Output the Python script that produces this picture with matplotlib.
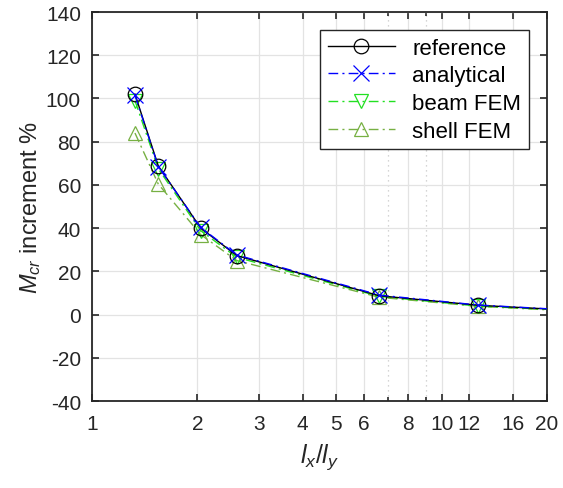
import matplotlib
matplotlib.use("Agg")
import matplotlib.pyplot as plt
from matplotlib.ticker import FixedLocator, FixedFormatter, NullFormatter

plt.rcParams['font.family'] = ['Liberation Sans', 'DejaVu Sans']
plt.rcParams['mathtext.fontset'] = 'custom'
plt.rcParams['mathtext.rm'] = 'Liberation Sans'
plt.rcParams['mathtext.it'] = 'Liberation Sans:italic'
plt.rcParams['axes.unicode_minus'] = False

# data
ratio = [1.327, 1.547, 2.046, 2.593, 6.63, 12.73, 20.0]
reference = [102.0, 68.8, 40.0, 27.3, 8.7, 4.3, 2.6]
analytical = [101.5, 68.5, 40.3, 27.6, 9.0, 4.4, 2.7]
beam_fem = [99.0, 67.5, 38.8, 26.5, 8.4, 3.9, 2.4]
shell_fem = [84.0, 60.4, 37.0, 25.0, 8.0, 3.8, 2.2]

xticks = [1, 2, 3, 4, 5, 6, 8, 10, 12, 16, 20]
xminor = [7, 9]
yticks = [-40, -20, 0, 20, 40, 60, 80, 100, 120, 140]

fig = plt.figure(figsize=(5.63, 4.89), dpi=100)
ax = fig.add_axes([0.1634, 0.1779, 0.8082, 0.7955])

mk = list(range(len(ratio) - 1))
dd = (7, 3, 1.5, 3)
ax.plot(ratio, reference, color='black', lw=1.0, ls='-', marker='o',
        ms=10.5, mfc='none', mec='black', mew=0.9, markevery=mk, label='reference', zorder=5)
ax.plot(ratio, analytical, color='#0000ff', lw=1.0, ls='-.', dashes=dd, marker='x',
        ms=11, mew=0.9, markevery=mk, label='analytical', zorder=6)
ax.plot(ratio, beam_fem, color='#22e022', lw=1.0, ls='-.', dashes=dd, marker='v',
        ms=10.5, mfc='none', mec='#22e022', mew=0.9, markevery=mk, label='beam FEM', zorder=4)
ax.plot(ratio, shell_fem, color='#77b043', lw=1.0, ls='-.', dashes=dd, marker='^',
        ms=10.5, mfc='none', mec='#77b043', mew=0.9, markevery=mk, label='shell FEM', zorder=3)

ax.set_xscale('log')
ax.set_xlim(1, 20)
ax.set_ylim(-40, 140)
ax.xaxis.set_major_locator(FixedLocator(xticks))
ax.xaxis.set_major_formatter(FixedFormatter([str(t) for t in xticks]))
ax.xaxis.set_minor_locator(FixedLocator(xminor))
ax.xaxis.set_minor_formatter(NullFormatter())
ax.set_yticks(yticks)
ax.set_yticklabels([str(t) for t in yticks])

ax.grid(True, which='major', color='#e3e3e3', lw=0.9, ls='-', zorder=0)
ax.grid(True, which='minor', axis='x', color='#c8c8c8', lw=0.9, ls=(0, (1, 3)), zorder=0)
ax.set_axisbelow(True)

ax.tick_params(which='both', direction='in', top=True, right=True,
               labelsize=15, colors='#262626', labelcolor='#262626', width=1.2)
ax.tick_params(which='major', length=5)
ax.tick_params(which='minor', length=3)
ax.tick_params(axis='x', pad=9)
ax.tick_params(axis='y', pad=8)
for s in ax.spines.values():
    s.set_color('#262626')
    s.set_linewidth(1.3)

ax.set_xlabel(r'$l_x/l_y$', fontsize=18, color='#262626', labelpad=6)
ax.set_ylabel(r'$M_{cr}$ increment %', fontsize=17, color='#262626', labelpad=2)

leg = ax.legend(loc='upper right', fontsize=16, frameon=True, fancybox=False,
                edgecolor='#262626', framealpha=1, handlelength=3.0,
                borderaxespad=0.8, labelspacing=0.3, handletextpad=0.8,
                borderpad=0.35)
leg.get_frame().set_linewidth(1.0)

fig.savefig('out.png', dpi=100)
